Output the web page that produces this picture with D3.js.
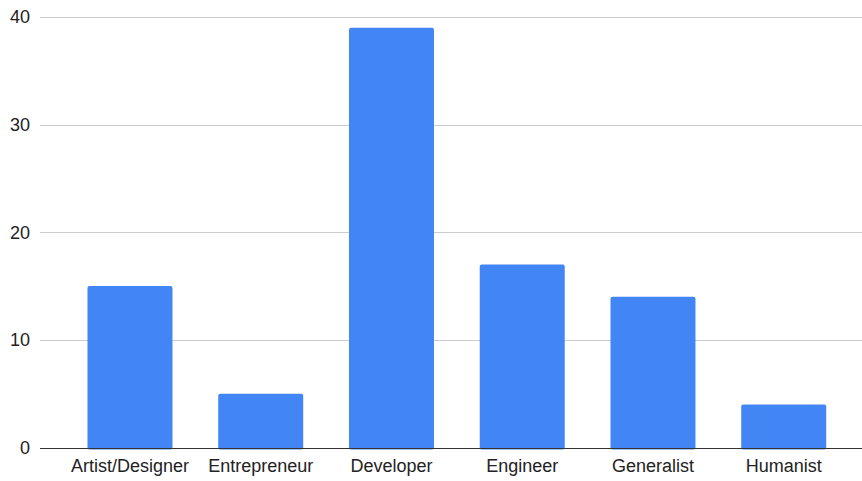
<!DOCTYPE html>
<html>
<head>
<meta charset="utf-8">
<script src="https://cdn.jsdelivr.net/npm/d3@7"></script>
<style>
  html, body { margin: 0; padding: 0; background: #fff; }
  svg text { font-family: "Liberation Sans", Arial, sans-serif; }
</style>
</head>
<body>
<svg id="chart" width="862" height="481"></svg>
<script>
// Respondents by role
const categories = ["Artist/Designer", "Entrepreneur", "Developer", "Engineer", "Generalist", "Humanist"];
const counts = [15, 5, 39, 17, 14, 4];
const yTicks = [0, 10, 20, 30, 40];

const svg = d3.select("#chart");
const gridLeft = 40, gridRight = 862;
const fontSize = 18;

const x = d3.scaleBand()
  .domain(categories)
  .range([64.6, 849.1])
  .paddingInner(0.35)
  .paddingOuter(0.175);

const y = d3.scaleLinear()
  .domain([0, 40])
  .range([447.5, 17]);

// Horizontal gridlines
svg.append("g")
  .selectAll("line")
  .data(yTicks.filter(t => t !== 0))
  .join("line")
  .attr("x1", gridLeft)
  .attr("x2", gridRight)
  .attr("y1", d => Math.round(y(d)) + 0.5)
  .attr("y2", d => Math.round(y(d)) + 0.5)
  .attr("stroke", "#cccccc")
  .attr("stroke-width", 1);

// Y tick labels
svg.append("g")
  .selectAll("text")
  .data(yTicks)
  .join("text")
  .attr("x", 30)
  .attr("y", d => y(d))
  .attr("dy", "0.35em")
  .attr("text-anchor", "end")
  .attr("font-size", fontSize)
  .attr("fill", "#222")
  .text(d => d);

// Bars
svg.append("g")
  .selectAll("rect")
  .data(categories.map((c, i) => ({ c, v: counts[i] })))
  .join("rect")
  .attr("x", d => x(d.c))
  .attr("width", x.bandwidth())
  .attr("y", d => y(d.v))
  .attr("height", d => y(0) - y(d.v) + 2)
  .attr("rx", 2)
  .attr("fill", "#4285f4");

// Baseline
svg.append("line")
  .attr("x1", gridLeft)
  .attr("x2", gridRight)
  .attr("y1", Math.round(y(0)) + 0.5)
  .attr("y2", Math.round(y(0)) + 0.5)
  .attr("stroke", "#333")
  .attr("stroke-width", 1);

// Category labels
const xAxis = d3.axisBottom(x).tickSize(0).tickPadding(0);
const gx = svg.append("g")
  .attr("transform", `translate(0, ${y(0)})`)
  .call(xAxis);
gx.select(".domain").remove();
gx.selectAll("text")
  .attr("y", 24)
  .attr("dy", 0)
  .attr("font-size", fontSize)
  .attr("fill", "#222");
</script>
</body>
</html>
